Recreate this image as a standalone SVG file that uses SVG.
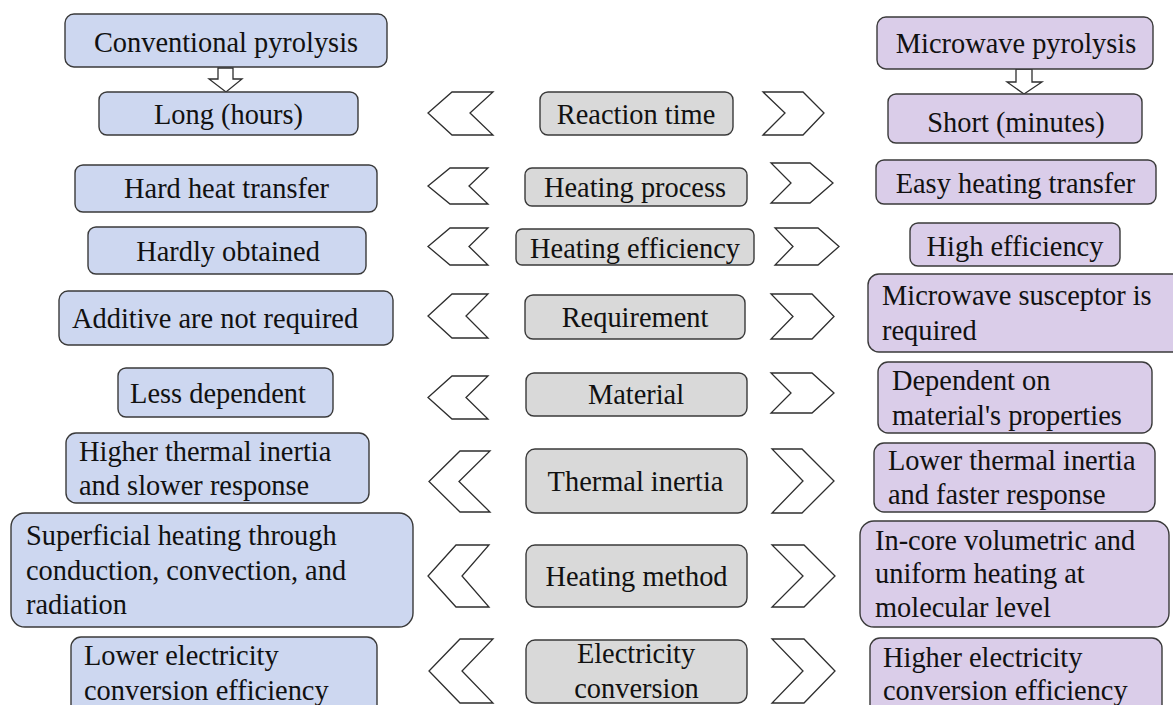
<svg xmlns="http://www.w3.org/2000/svg" width="1173" height="705" viewBox="0 0 1173 705">
<style>
.b{fill:#cdd7f0;stroke:#3a3a3a;stroke-width:1.4}
.p{fill:#dacde9;stroke:#3a3a3a;stroke-width:1.4}
.g{fill:#d9d9d9;stroke:#3a3a3a;stroke-width:1.4}
.c{fill:#fff;stroke:#2e2e2e;stroke-width:1.3;stroke-linejoin:miter}
text{font-family:"Liberation Serif","Times New Roman",serif;font-size:28.4px;fill:#111}
.m{text-anchor:middle}
</style>
<rect width="1173" height="705" fill="#fff"/>
<g id="connectors">
<path class="c" d="M218,68 H233 V79 H242 L226,92 L209,79 H218 Z"/>
<path class="c" d="M1016,69 H1032 V82 H1042 L1024,94 L1007,82 H1016 Z"/>
<polygon class="c" points="452,92 493,92 470,113 493,135 452,135 428,113"/>
<polygon class="c" points="450,168 488,168 469,186 488,204 450,204 428,186"/>
<polygon class="c" points="450,228 488,228 469,246.5 488,265 450,265 428,246.5"/>
<polygon class="c" points="452,294 488,294 466,316 488,338 452,338 428,316"/>
<polygon class="c" points="452,376 488,376 466,397.5 488,419 452,419 428,397.5"/>
<polygon class="c" points="460,451 490,451 459,481.5 490,512 460,512 429,481.5"/>
<polygon class="c" points="456,545 489,545 462,576 489,607 456,607 428,576"/>
<polygon class="c" points="460,639 493,639 462,671 493,703 460,703 429,671"/>
<polygon class="c" points="763,92 803,92 824,113 803,135 763,135 785,113"/>
<polygon class="c" points="771,163 810,163 833,183 810,203 771,203 791,183"/>
<polygon class="c" points="775,228 818,228 839,246.5 818,265 775,265 793,246.5"/>
<polygon class="c" points="771,294 812,294 834,316.5 812,339 771,339 793,316.5"/>
<polygon class="c" points="771,373 812,373 834,393 812,413 771,413 791,393"/>
<polygon class="c" points="772,449 802,449 834,481 802,513 772,513 803,481"/>
<polygon class="c" points="772,545 804,545 835,576 804,607 772,607 803,576"/>
<polygon class="c" points="772,639 804,639 835,671 804,703 772,703 803,671"/>
</g>
<g id="n-conv"><rect class="b" x="65" y="14" width="322" height="53" rx="9"/><text class="m" x="226" y="52">Conventional pyrolysis</text></g>
<g id="n-long"><rect class="b" x="99" y="92" width="259" height="43" rx="8"/><text class="m" x="228.5" y="124">Long (hours)</text></g>
<g id="n-hard"><rect class="b" x="75" y="165" width="302" height="47" rx="8"/><text class="m" x="226.5" y="198">Hard heat transfer</text></g>
<g id="n-hardly"><rect class="b" x="88" y="227" width="278" height="47" rx="8"/><text class="m" x="228" y="261">Hardly obtained</text></g>
<g id="n-additive"><rect class="b" x="59" y="291" width="334" height="54" rx="9"/><text x="72" y="328">Additive are not required</text></g>
<g id="n-less"><rect class="b" x="118" y="368" width="215" height="49" rx="8"/><text class="m" x="218" y="403">Less dependent</text></g>
<g id="n-higher"><rect class="b" x="66" y="433" width="303" height="70" rx="10"/><text x="79" y="461">Higher thermal inertia</text><text x="79" y="495">and slower response</text></g>
<g id="n-superficial"><rect class="b" x="11" y="513" width="402" height="114" rx="14"/><text x="26" y="545">Superficial heating through</text><text x="26" y="580">conduction, convection, and</text><text x="26" y="614">radiation</text></g>
<g id="n-lowerelec"><rect class="b" x="71" y="637" width="306" height="78" rx="10"/><text x="84" y="665">Lower electricity</text><text x="84" y="700">conversion efficiency</text></g>

<g id="n-reaction"><rect class="g" x="540" y="92" width="193" height="43" rx="8"/><text class="m" x="636" y="124">Reaction time</text></g>
<g id="n-hprocess"><rect class="g" x="525" y="168" width="222" height="38" rx="7"/><text class="m" x="635" y="197">Heating process</text></g>
<g id="n-heff"><rect class="g" x="516" y="229" width="238" height="36" rx="6"/><text class="m" x="635" y="258">Heating efficiency</text></g>
<g id="n-req"><rect class="g" x="525" y="295" width="220" height="44" rx="8"/><text class="m" x="635" y="327">Requirement</text></g>
<g id="n-material"><rect class="g" x="526" y="373" width="221" height="43" rx="8"/><text class="m" x="636" y="404">Material</text></g>
<g id="n-inertia"><rect class="g" x="526" y="449" width="221" height="64" rx="9"/><text class="m" x="635.5" y="491">Thermal inertia</text></g>
<g id="n-method"><rect class="g" x="526" y="545" width="221" height="62" rx="9"/><text class="m" x="636.5" y="586">Heating method</text></g>
<g id="n-elec"><rect class="g" x="526" y="640" width="221" height="63" rx="9"/><text class="m" x="636" y="663">Electricity</text><text class="m" x="636.5" y="698">conversion</text></g>

<g id="n-micro"><rect class="p" x="877" y="17" width="276" height="52" rx="9"/><text class="m" x="1016" y="53">Microwave pyrolysis</text></g>
<g id="n-short"><rect class="p" x="888" y="94" width="254" height="49" rx="8"/><text class="m" x="1016" y="132">Short (minutes)</text></g>
<g id="n-easy"><rect class="p" x="876" y="160" width="280" height="44" rx="8"/><text class="m" x="1015.5" y="193">Easy heating transfer</text></g>
<g id="n-high"><rect class="p" x="910" y="223" width="210" height="43" rx="8"/><text class="m" x="1015" y="256">High efficiency</text></g>
<g id="n-susceptor"><rect class="p" x="868" y="274" width="315" height="78" rx="11"/><text x="882" y="305">Microwave susceptor is</text><text x="882" y="340">required</text></g>
<g id="n-dependent"><rect class="p" x="878" y="362" width="274" height="71" rx="10"/><text x="892" y="390">Dependent on</text><text x="892" y="425">material's properties</text></g>
<g id="n-lowerth"><rect class="p" x="874" y="443" width="281" height="69" rx="10"/><text x="888" y="470">Lower thermal inertia</text><text x="888" y="504">and faster response</text></g>
<g id="n-incore"><rect class="p" x="860" y="521" width="309" height="106" rx="14"/><text x="875" y="550">In-core volumetric and</text><text x="875" y="583">uniform heating at</text><text x="875" y="617">molecular level</text></g>
<g id="n-higherelec"><rect class="p" x="870" y="638" width="292" height="77" rx="10"/><text x="883" y="667">Higher electricity</text><text x="883" y="700">conversion efficiency</text></g>
</svg>
